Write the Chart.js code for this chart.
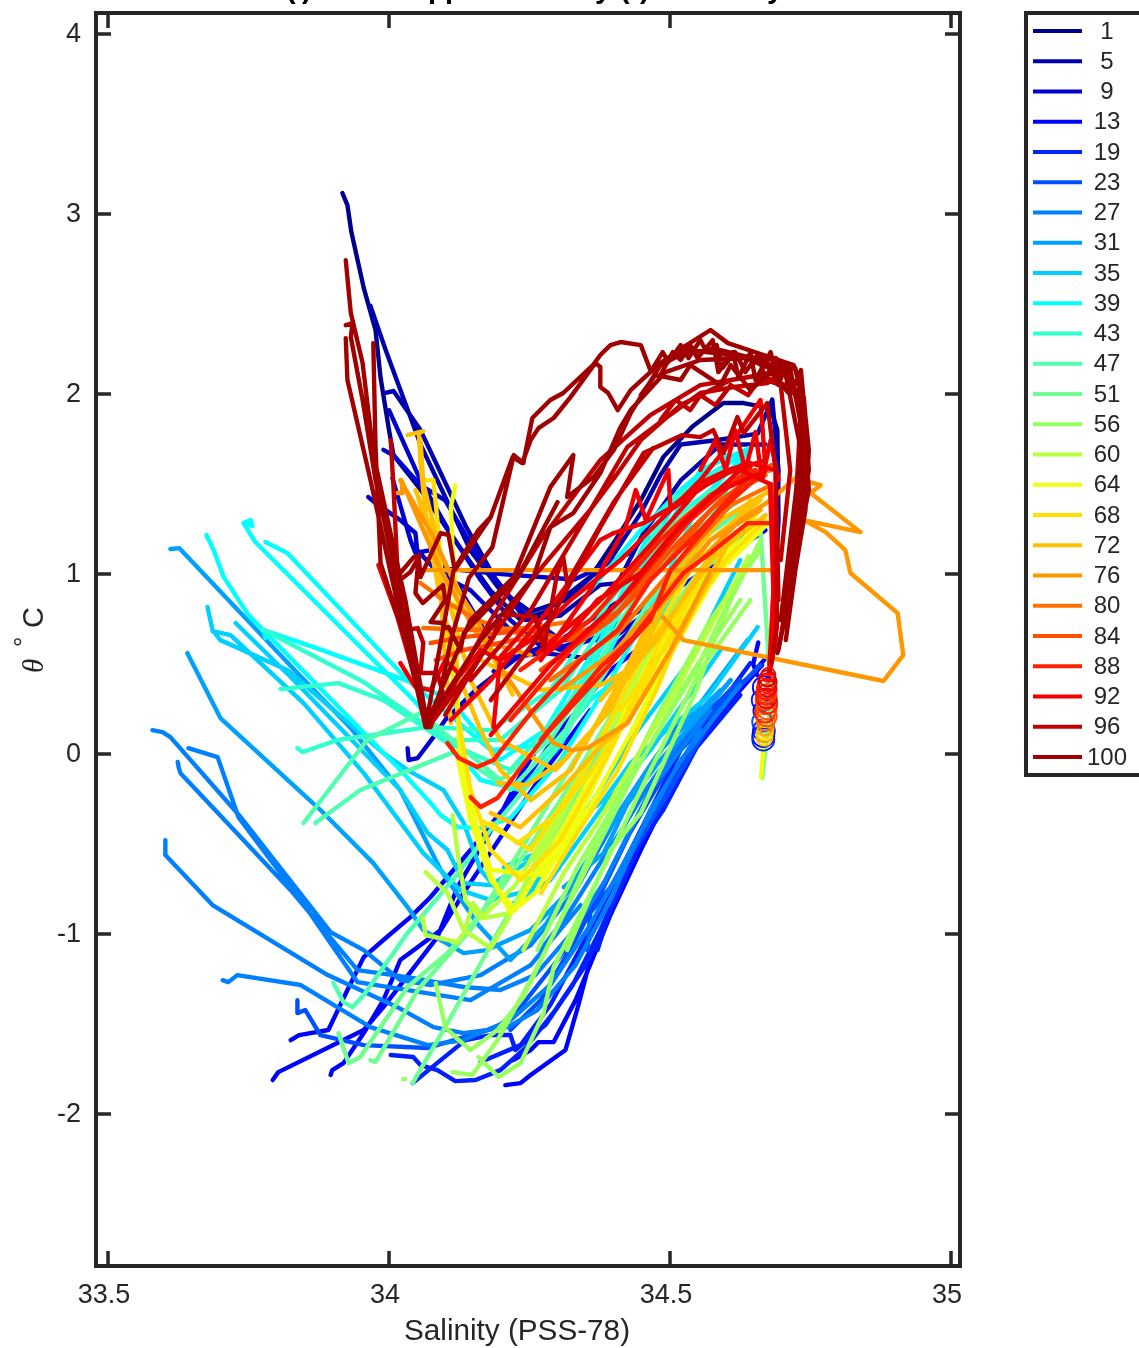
<!DOCTYPE html>
<html>
<head>
<meta charset="utf-8">
<style>
  html, body { margin: 0; padding: 0; background: #fff; overflow: hidden; }
  canvas { display: block; }
</style>
<script src="https://cdn.jsdelivr.net/npm/chart.js@4"></script>
</head>
<body>
<canvas id="ts" width="1139" height="1348"></canvas>
<script>
const castLabels = [1,5,9,13,19,23,27,31,35,39,43,47,51,56,60,64,68,72,76,80,84,88,92,96,100];
const castColors = ['#00008f','#0000af','#0000cf','#0000ff','#0020ff','#0050ff','#0080ff','#00a0ff','#00d0ff','#00ffff','#30ffcf','#50ffaf','#70ff8f','#98ff60','#b8ff40','#f0ff10','#ffe000','#ffc000','#ff9800','#ff7000','#ff5000','#ff2000','#f00000','#c00000','#a00000'];
const xTicks = [33.5,34,34.5,35];
const yTicks = [-2,-1,0,1,2,3,4];

// each cast is a list of strands of [salinity, theta]
const cast1 = [[[33.917,3.117],[33.926,3.05],[33.933,2.9],[33.955,2.59],[33.976,2.355],[33.985,2.09],[34,1.8],[34.008,1.66],[34.056,1.47],[34.11,1.22],[34.18,.91],[34.234,.745],[34.278,.79],[34.36,.99],[34.403,1.19],[34.448,1.41],[34.488,1.65],[34.54,1.82],[34.595,1.95],[34.631,1.95],[34.679,1.92],[34.691,1.8],[34.693,1.3],[34.682,.63]]];
const cast5 = [
  [[33.967,2.49],[33.994,2.245],[34.056,1.72],[34.145,1.13],[34.198,.91],[34.252,.79],[34.314,.855],[34.394,1.08],[34.448,1.34],[34.483,1.55],[34.519,1.72],[34.585,1.745],[34.656,1.78],[34.682,1.97],[34.693,1.58],[34.688,.855]],
  [[33.992,2.005],[34.008,2.017],[34.056,1.8],[34.136,1.27],[34.19,.97],[34.243,.745],[34.305,.77],[34.376,.94],[34.407,.95],[34.453,1.23],[34.519,1.52],[34.59,1.72],[34.67,1.72]]];
const cast9 = [
  [[34,1.91],[34.056,1.52],[34.106,1.244],[34.163,.967],[34.216,.744],[34.278,.578],[34.358,.633],[34.448,.8],[34.519,1.08],[34.59,1.356],[34.661,1.578]],
  [[33.99,1.69],[34.008,1.66],[34.056,1.494],[34.1,1.41],[34.163,1.078],[34.234,.8],[34.305,.633],[34.394,.633],[34.465,.8]],
  [[33.963,1.428],[33.976,1.394],[34.02,1.3],[34.047,1.228],[34.05,1.133],[34.092,.994],[34.145,.91],[34.216,.689],[34.305,.578],[34.412,.689]],
  [[34.033,.033],[34.035,-.033],[34.051,-.022],[34.079,.094],[34.1,.19],[34.154,.356],[34.234,.55],[34.305,.633],[34.412,.856],[34.483,1.078]],
  [[34.006,1.533],[34.038,1.19],[34.047,1.117],[34.074,1.133],[34.127,.911],[34.18,.633]],
  [[34.1,1.03],[34.2,1.0],[34.33,.97],[34.43,1.12],[34.453,1.205],[34.476,1.19],[34.42,.98],[34.39,.86]],
  [[34.186,.46],[34.222,.539],[34.275,.561],[34.353,.533]]];
const cast13 = [
  [[33.793,-1.811],[33.803,-1.767],[33.955,-1.533],[33.99,-1.406],[34.086,-1.017],[34.122,-.739],[34.157,-.55],[34.198,-.339],[34.234,-.117],[34.296,.189],[34.394,.578],[34.483,.856],[34.59,1.078],[34.67,1.244]],
  [[33.825,-1.589],[33.84,-1.561],[33.892,-1.533],[33.926,-1.311],[33.955,-1.128],[33.99,-1.033],[34.038,-.906],[34.074,-.794],[34.145,-.533],[34.216,-.256],[34.305,.133],[34.394,.467],[34.465,.633]],
  [[33.896,-1.783],[33.899,-1.756],[33.919,-1.717],[33.955,-1.55],[33.99,-1.367],[34.02,-1.144],[34.092,-.978],[34.136,-.756],[34.207,-.422],[34.278,-.089],[34.358,.244]],
  [[34.207,-1.839],[34.234,-1.828],[34.252,-1.783],[34.314,-1.644],[34.337,-1.394],[34.358,-1.144],[34.398,-.867],[34.448,-.533],[34.519,-.089],[34.59,.244],[34.652,.467],[34.675,.55]],
  [[34.221,-1.7],[34.252,-1.644],[34.266,-1.6],[34.293,-1.6],[34.332,-1.367],[34.376,-1.033],[34.448,-.478],[34.536,.022],[34.625,.356],[34.664,.494]],
  [[34.657,.62],[34.648,.5],[34.655,.44]]];
const cast19 = [
  [[34.003,-1.672],[34.043,-1.683],[34.056,-1.728],[34.086,-1.756],[34.118,-1.817],[34.154,-1.811],[34.198,-1.756],[34.243,-1.633],[34.296,-1.422],[34.35,-1.172],[34.403,-.811],[34.465,-.367],[34.554,.106],[34.634,.411]],
  [[34.042,-1.828],[34.092,-1.7],[34.136,-1.589],[34.181,-1.561],[34.216,-1.561],[34.225,-1.644],[34.278,-1.506],[34.327,-1.283],[34.376,-.978],[34.439,-.533],[34.536,-.006],[34.625,.328]],
  [[34.163,-1.711],[34.234,-1.617],[34.287,-1.394],[34.358,-.978],[34.43,-.533],[34.519,.022],[34.616,.356]],
  [[34.371,-1.089],[34.4,-.794],[34.442,-.517],[34.488,-.311],[34.542,.006],[34.595,.3],[34.643,.506]]];
const cast23 = [
  [[33.837,-1.367],[33.837,-1.439],[33.851,-1.422],[33.878,-1.561],[33.955,-1.617],[34.069,-1.633],[34.133,-1.572],[34.193,-1.517],[34.234,-1.406],[34.3,-1.144],[34.371,-.811],[34.448,-.311],[34.536,.133],[34.625,.411]],
  [[34.216,-1.533],[34.27,-1.367],[34.341,-.978],[34.421,-.478],[34.51,-.006],[34.608,.356]],
  [[34.353,-1.089],[34.358,-.883],[34.394,-.739],[34.46,-.406],[34.513,-.128],[34.59,.272],[34.661,.494]]];
const cast27 = [
  [[33.704,-1.256],[33.714,-1.267],[33.73,-1.228],[33.843,-1.283],[33.967,-1.517],[34.069,-1.617],[34.133,-1.589],[34.216,-1.478],[34.287,-1.283],[34.358,-.95],[34.43,-.533],[34.519,-.033],[34.625,.383]],
  [[33.602,-.478],[33.602,-.561],[33.686,-.839],[33.891,-1.228],[34.015,-1.406],[34.079,-1.517],[34.133,-1.55],[34.211,-1.517],[34.264,-1.422],[34.332,-1.172],[34.394,-.811],[34.465,-.311],[34.554,.133]],
  [[33.624,-.044],[33.626,-.078],[33.629,-.106],[33.825,-.756],[33.944,-1.2],[34.033,-1.239],[34.133,-1.294],[34.198,-1.311],[34.26,-1.228],[34.322,-1.006],[34.385,-.7],[34.465,-.2],[34.572,.244]],
  [[33.579,.133],[33.597,.122],[33.611,.094],[33.736,-.35],[33.896,-.989],[33.955,-1.089],[34.02,-1.256],[34.074,-1.283],[34.163,-1.228],[34.252,-1.061],[34.332,-.756],[34.412,-.311],[34.519,.189]],
  [[33.643,.033],[33.695,-.017],[33.732,-.35],[33.843,-.811],[33.944,-1.267],[34.145,-1.367],[34.252,-1.172],[34.341,-.839]],
  [[34.27,-1.089],[34.323,-.867],[34.371,-.628],[34.417,-.406],[34.46,-.183],[34.524,.094],[34.608,.411]]];
const cast31 = [
  [[33.641,.561],[33.7,.2],[33.878,-.311],[33.972,-.606],[34.033,-.85],[34.061,-.978],[34.133,-1.106],[34.174,-1.089],[34.252,-.978],[34.322,-.756],[34.394,-.394],[34.483,.022],[34.59,.356]],
  [[33.611,1.139],[33.627,1.144],[33.837,.45],[33.932,.144],[34.02,-.2],[34.092,-.644],[34.159,-.95],[34.216,-1.144],[34.278,-.95],[34.376,-.478],[34.483,-.033],[34.608,.411]],
  [[34.311,-.739],[34.382,-.55],[34.43,-.239],[34.488,.039],[34.549,.261],[34.638,.633]]];
const cast35 = [
  [[33.677,.817],[33.686,.689],[33.7,.633],[33.819,.467],[33.99,.006],[34.033,-.089],[34.097,-.2],[34.133,-.383],[34.163,-.644],[34.216,-.839],[34.287,-.7],[34.376,-.311],[34.465,.022],[34.59,.578]],
  [[33.686,.683],[33.718,.661],[33.848,.283],[33.955,-.106],[34.061,-.55],[34.127,-.756],[34.181,-.811],[34.252,-.756],[34.341,-.367],[34.43,.078],[34.536,.522],[34.625,1.078]],
  [[33.727,.728],[33.825,.428],[34.02,-.2],[34.069,-.439],[34.104,-.533],[34.133,-.717],[34.181,-.728],[34.252,-.589],[34.341,-.144],[34.448,.356],[34.554,.911],[34.634,1.244]],
  [[34.204,-.628],[34.264,-.55],[34.382,-.256],[34.43,-.05],[34.488,.117],[34.567,.317],[34.656,.706]]];
const cast39 = [
  [[33.675,1.217],[33.688,1.133],[33.706,.983],[33.75,.772],[34.015,-.072],[34.074,-.272],[34.092,-.339],[34.122,-.406],[34.163,-.411],[34.216,-.356],[34.305,-.033],[34.394,.411],[34.483,.911],[34.554,1.411],[34.625,1.633]],
  [[33.741,1.283],[33.754,1.3],[33.757,1.267],[33.741,1.283],[33.762,1.178],[34.044,.3],[34.104,.078],[34.163,-.144],[34.234,-.2],[34.305,.05],[34.394,.578],[34.483,1.189],[34.554,1.578],[34.634,1.689]],
  [[33.78,1.178],[33.819,1.117],[34.033,.411],[34.104,.228],[34.181,.022],[34.27,.05],[34.358,.467],[34.448,1.022],[34.519,1.467],[34.599,1.661]],
  [[33.78,.644],[33.777,.689],[33.866,.594],[34.044,.394],[34.11,.3],[34.198,-.033],[34.278,.133],[34.376,.633],[34.465,1.244],[34.554,1.522],[34.643,1.689]],
  [[34.27,-.033],[34.358,.3],[34.435,.483],[34.5,.85],[34.572,1.3],[34.64,1.7]],
  [[34.358,.911],[34.448,1.244],[34.519,1.467],[34.572,1.606],[34.634,1.689]]];
const cast43 = [
  [[33.777,.689],[33.955,.4],[34.104,.078],[34.198,.078],[34.305,.356],[34.412,.856],[34.501,1.411],[34.59,1.578],[34.661,1.522]],
  [[33.807,.361],[33.91,.394],[33.99,.3],[34.104,.061],[34.216,-.089],[34.323,.3],[34.43,.911],[34.519,1.356],[34.608,1.522]],
  [[33.837,.033],[33.846,.011],[33.908,.078],[34.069,.15],[34.181,.133],[34.287,.356],[34.394,.856],[34.483,1.244],[34.572,1.467]]];
const cast47 = [
  [[33.848,-.383],[33.961,.078],[34.056,.228],[34.198,-.144],[34.287,.078],[34.376,.522],[34.465,1.022],[34.554,1.3],[34.643,1.522]],
  [[33.869,-.383],[33.949,-.2],[34.115,.011],[34.216,-.2],[34.314,.133],[34.412,.744],[34.519,1.189],[34.625,1.411]],
  [[33.901,-1.272],[33.919,-1.378],[33.935,-1.406],[33.955,-1.339],[34.033,-.994],[34.113,-.7],[34.181,-.422],[34.27,-.089],[34.376,.411],[34.465,.856],[34.554,1.189],[34.652,1.411]]];
const cast51 = [
  [[33.91,-1.55],[33.928,-1.717],[33.949,-1.683],[34.033,-1.294],[34.104,-1.106],[34.198,-.756],[34.305,-.256],[34.412,.3],[34.519,.8],[34.625,1.189]],
  [[33.967,-1.7],[33.976,-1.711],[34.051,-1.311],[34.145,-.978],[34.234,-.533],[34.341,.022],[34.448,.578],[34.554,1.022],[34.661,1.244],[34.68,.3],[34.664,-.133]],
  [[34.042,-1.828],[34.11,-1.461],[34.193,-.994],[34.27,-.589],[34.358,-.089],[34.448,.411],[34.554,.911]]];
const cast56 = [
  [[34.025,-1.806],[34.029,-1.806]],
  [[34.083,-1.272],[34.1,-1.517],[34.124,-1.589],[34.145,-1.644],[34.193,-1.533],[34.239,-1.35],[34.305,-.922],[34.394,-.311],[34.483,.244],[34.572,.744],[34.661,1.133]],
  [[34.159,-1.683],[34.195,-1.794],[34.234,-1.717],[34.275,-1.439],[34.293,-1.183],[34.382,-.628],[34.465,-.089],[34.554,.467],[34.643,.856]],
  [[34.113,-1.767],[34.148,-1.783],[34.193,-1.589],[34.252,-1.256],[34.341,-.7],[34.43,-.144],[34.519,.356],[34.625,.856]],
  [[34.317,-1.089],[34.394,-.533],[34.448,-.328],[34.549,.372],[34.572,.578],[34.608,.856],[34.661,1.189]],
  [[34.264,-1.089],[34.335,-.628],[34.407,-.256],[34.488,.172],[34.549,.483],[34.62,.95]]];
const cast60 = [
  [[34.06,-.906],[34.065,-1.006],[34.122,-1.044],[34.133,-.994],[34.15,-.828],[34.168,-.911],[34.216,-.883],[34.287,-.478],[34.376,.078],[34.465,.578],[34.554,1.022],[34.652,1.3]],
  [[34.065,-.656],[34.104,-.772],[34.133,-.978],[34.181,-1.078],[34.211,-.922],[34.27,-.533],[34.358,-.033],[34.465,.522],[34.554,.911],[34.661,1.244]],
  [[34.113,-.339],[34.124,-.589],[34.136,-.811],[34.163,-.911],[34.225,-.728],[34.305,-.311],[34.394,.189],[34.483,.633],[34.572,1.022]],
  [[34.239,-1.089],[34.311,-.661],[34.371,-.383],[34.43,-.072],[34.501,.3],[34.572,.706],[34.64,1.1]]];
const cast64 = [
  [[34.118,1.494],[34.11,1.372],[34.113,1.15],[34.117,1.022],[34.124,.078],[34.145,-.256],[34.172,-.617],[34.216,-.883],[34.26,-.772],[34.335,-.367],[34.412,.133],[34.501,.633],[34.59,1.022],[34.68,1.3]],
  [[34.119,.022],[34.145,-.367],[34.181,-.7],[34.225,-.867],[34.287,-.533],[34.376,-.033],[34.465,.522],[34.554,.911],[34.643,1.3]],
  [[34.136,-.2],[34.181,-.644],[34.27,-.672],[34.358,-.2],[34.448,.411],[34.536,.856],[34.661,1.3]],
  [[34.3,-.589],[34.371,-.217],[34.43,.117],[34.488,.483],[34.536,.744],[34.6,1.1]],
  [[34.668,.1],[34.662,-.13]]];
const cast68 = [
  [[34.061,1.522],[34.079,1.522],[34.086,1.3],[34.1,.744],[34.124,.189],[34.145,-.2],[34.181,-.533],[34.234,-.7],[34.305,-.478],[34.394,.022],[34.483,.633],[34.572,1.078],[34.661,1.356]],
  [[34.163,-.367],[34.252,-.533],[34.35,-.089],[34.448,.522],[34.536,1.022],[34.643,1.356]],
  [[34.27,-.772],[34.335,-.439],[34.407,-.089],[34.478,.372],[34.507,.594],[34.59,1.1]],
  [[34.181,-.383],[34.229,-.494],[34.293,-.35],[34.358,-.106],[34.442,.3],[34.483,.561],[34.56,1.0]],
  [[34.412,.244],[34.501,.633],[34.599,1.078],[34.67,1.3]]];
const cast72 = [
  [[34.033,1.772],[34.061,1.794],[34.053,1.783],[34.056,1.617],[34.065,1.339],[34.074,1.15],[34.092,.856],[34.127,.411],[34.163,.133],[34.198,-.089],[34.252,-.256],[34.323,-.089],[34.412,.411],[34.501,.967],[34.59,1.3],[34.68,1.467]],
  [[34.049,1.456],[34.092,1.022],[34.145,.411],[34.198,.078],[34.296,-.089],[34.394,.244],[34.483,.8],[34.572,1.189],[34.661,1.411]],
  [[34.163,.522],[34.27,.356],[34.376,.383],[34.435,.483],[34.477,.633],[34.554,1.022],[34.643,1.411]],
  [[34.181,-.328],[34.234,-.406],[34.311,-.183],[34.382,.061],[34.424,.172],[34.513,.633],[34.6,1.15]],
  [[34.056,1.744],[34.061,1.506],[34.086,1.189],[34.097,.633],[34.11,.172]],
  [[34.047,1.467],[34.097,1.078],[34.157,.706],[34.22,.33]],
  [[34.193,-.161],[34.246,-.172],[34.311,-.033],[34.358,.117],[34.44,.5],[34.5,.9]],
  [[34.376,.3],[34.483,.689],[34.581,1.106],[34.67,1.328]]];
const cast76 = [
  [[34.015,1.45],[34.024,1.45],[34.022,1.522],[34.092,1.022],[34.163,.633],[34.252,.55]],
  [[34.02,1.522],[34.079,1.206],[34.122,.911],[34.157,.744],[34.198,.483],[34.275,.133]],
  [[34.065,1.022],[34.679,1.022]],
  [[34.487,.761],[34.524,.633],[34.88,.406],[34.915,.55],[34.905,.783],[34.821,1.006],[34.812,1.133],[34.777,1.233],[34.738,1.3],[34.839,1.233],[34.75,1.45],[34.768,1.494],[34.723,1.533],[34.679,1.411]],
  [[34.282,.106],[34.293,.061],[34.323,.022],[34.353,.033],[34.424,.172],[34.501,.578],[34.57,1.0]],
  [[34.305,.356],[34.43,.633],[34.536,1.022],[34.625,1.3],[34.679,1.411]],
  [[34.358,.411],[34.465,.8],[34.572,1.189],[34.661,1.356]]];
const cast80 = [
  [[34.061,.7],[34.145,.689],[34.246,.7],[34.341,.744],[34.43,1.022],[34.519,1.3],[34.608,1.522],[34.68,1.578]],
  [[34.056,.95],[34.097,.856],[34.157,.744],[34.25,.65]],
  [[34.287,.411],[34.412,.689],[34.519,1.078],[34.608,1.383],[34.68,1.494]]];
const cast84 = [
  [[34.074,.617],[34.133,.65],[34.246,.689],[34.323,.633],[34.412,.8],[34.501,1.133],[34.59,1.411],[34.68,1.606]],
  [[34.083,.522],[34.133,.578],[34.222,.633],[34.305,.633],[34.394,.744],[34.483,1.022],[34.572,1.356],[34.661,1.578]],
  [[34.27,.467],[34.394,.744],[34.501,1.133],[34.59,1.411],[34.67,1.55]]];
const cast88 = [
  [[34.145,-.239],[34.163,-.294],[34.193,-.244],[34.282,.117],[34.389,.483],[34.465,.744],[34.501,1.022],[34.59,1.356],[34.67,1.578]],
  [[34.104,.061],[34.124,-.022],[34.157,-.072],[34.186,-.033],[34.252,.228],[34.341,.522],[34.407,.689],[34.465,.967],[34.554,1.244],[34.643,1.55]],
  [[34.27,.078],[34.376,.483],[34.435,.65],[34.524,1.006],[34.572,1.117],[34.638,1.283],[34.68,1.283]],
  [[34.234,.467],[34.358,.744],[34.483,1.189],[34.572,1.439],[34.652,1.578]],
  [[34.216,.189],[34.323,.578],[34.43,.911],[34.536,1.3],[34.643,1.589]],
  [[34.68,1.5],[34.685,1.0],[34.68,.6],[34.675,.42]]];
const cast92 = [
  [[33.981,1.05],[34.015,.761],[34.047,.411],[34.069,.161]],
  [[34.02,.506],[34.047,.372],[34.074,.356],[34.1,.522],[34.127,.439],[34.163,.578],[34.198,.522],[34.252,.633],[34.323,.856],[34.412,1.078],[34.501,1.356],[34.59,1.55],[34.67,1.633]],
  [[34.11,.189],[34.181,.411],[34.27,.744],[34.376,1.189],[34.4,1.228],[34.453,1.283],[34.501,1.367],[34.554,1.506],[34.603,1.578],[34.643,1.617],[34.688,1.578],[34.688,.633],[34.675,.411]],
  [[34.27,.522],[34.358,.911],[34.421,1.261],[34.439,1.467],[34.457,1.3],[34.497,1.578],[34.501,1.356],[34.554,1.522],[34.625,1.8],[34.661,1.967],[34.67,1.578]],
  [[34.186,.15],[34.198,.539],[34.261,.761],[34.282,.561],[34.317,.65],[34.371,.856],[34.448,1.006],[34.495,1.189],[34.58,1.45],[34.66,1.56]],
  [[34.264,.561],[34.376,.856],[34.465,1.161],[34.549,1.467],[34.634,1.617]],
  [[34.181,.106],[34.287,.494],[34.412,.856],[34.519,1.272],[34.625,1.578],[34.678,1.5],[34.684,.9],[34.677,.5]],
  [[34.554,1.578],[34.581,1.744],[34.599,1.578],[34.616,1.8],[34.634,1.578],[34.652,1.789],[34.664,1.522],[34.679,1.744],[34.693,1.522]]];
const cast96 = [
  [[34.003,1.744],[34.008,1.483],[34.015,1.022],[34.029,.633],[34.069,.15],[34.1,.3],[34.181,.744],[34.27,1.189],[34.376,1.633],[34.465,1.883],[34.554,2.05],[34.661,2.106],[34.727,2.022],[34.741,1.689],[34.714,.967],[34.693,.578]],
  [[34.181,.3],[34.287,.744],[34.376,1.261],[34.453,1.672],[34.522,1.772],[34.554,1.761],[34.577,1.8],[34.595,1.672],[34.62,1.872],[34.631,1.783],[34.673,1.95],[34.688,1.578],[34.693,.856]],
  [[34.145,.411],[34.252,.8],[34.376,1.45],[34.424,1.706],[34.495,1.872],[34.554,2.006],[34.613,2.039],[34.673,2.061],[34.714,2.133],[34.732,1.856],[34.714,.856]],
  [[34.1,.217],[34.181,.633],[34.257,.983],[34.358,1.356],[34.407,1.561],[34.448,1.744],[34.519,1.939],[34.608,2.078],[34.697,2.122]],
  [[34.07,.15],[34.149,.483],[34.186,.65],[34.198,.772],[34.222,.772],[34.261,.761],[34.275,.578],[34.299,1.0],[34.31,1.094],[34.317,.95],[34.4,1.4],[34.47,1.7]],
  [[34.02,.911],[34.029,.689],[34.051,.7],[34.061,.617],[34.056,.45],[34.086,.45],[34.096,.339],[34.074,.15]],
  [[34.483,1.856],[34.51,1.967],[34.536,1.911],[34.554,1.994],[34.581,1.939],[34.608,2.05],[34.639,1.994],[34.661,2.089],[34.697,2.05],[34.706,1.8],[34.714,1.578],[34.697,1.078]],
  [[34.69,1.3],[34.69,.7],[34.68,.5]]];
const cast100 = [
  [[33.923,2.744],[33.932,2.45],[33.953,2.172],[33.972,1.672],[34.008,1.15],[34.029,.856],[34.069,.15],[34.092,.356],[34.11,.633],[34.142,.978],[34.184,1.15],[34.222,1.661],[34.239,1.617],[34.255,1.867],[34.287,1.967],[34.31,2.006],[34.363,2.161],[34.376,2.217],[34.394,2.272],[34.412,2.289],[34.448,2.272],[34.465,2.133],[34.483,2.172],[34.524,2.261],[34.572,2.356],[34.603,2.283],[34.656,2.228],[34.72,2.161],[34.738,1.983],[34.745,1.728],[34.733,1.339],[34.708,.8],[34.691,.561]],
  [[33.923,2.311],[33.926,2.078],[33.967,1.522],[34.003,1.006],[34.065,.15],[34.115,1.022],[34.159,1.244],[34.181,1.317],[34.22,1.65],[34.237,1.617],[34.252,1.744],[34.266,1.811],[34.293,1.867],[34.323,1.983],[34.367,2.172],[34.376,2.15],[34.376,2.039],[34.39,2.006],[34.407,1.911],[34.43,2.022],[34.465,2.122],[34.519,2.233],[34.59,2.244],[34.661,2.189],[34.714,2.106],[34.741,1.8],[34.714,.911]],
  [[33.923,2.383],[33.935,2.394],[33.932,2.317],[33.953,1.967],[33.976,1.522],[34.006,1.078],[34.042,.522],[34.065,.15],[34.145,.744],[34.222,.983],[34.287,1.483],[34.328,1.661],[34.317,1.428],[34.364,1.539],[34.4,1.689],[34.43,1.894],[34.483,2.161],[34.536,2.244],[34.608,2.217],[34.688,2.189],[34.733,1.967],[34.738,1.522],[34.706,.856]],
  [[33.972,2.283],[33.976,1.706],[33.985,1.061],[34.029,.633],[34.069,.178],[34.163,.633],[34.257,.983],[34.287,1.261],[34.328,1.339],[34.376,1.561],[34.412,1.817],[34.43,1.911],[34.492,2.122],[34.554,2.189],[34.634,2.2],[34.706,2.106],[34.733,1.689],[34.697,.744]],
  [[34.02,1.006],[34.044,1.094],[34.053,1.106],[34.047,.894],[34.06,.839],[34.096,.939],[34.1,.856],[34.074,.733],[34.096,.728],[34.097,.7],[34.106,.706],[34.127,.578],[34.133,.672],[34.229,.983],[34.3,1.4]],
  [[34.008,.939],[34.038,1.011],[34.053,1.094],[34.056,.983],[34.092,1.228],[34.106,1.217],[34.117,1.022],[34.181,1.317]],
  [[34.483,2.106],[34.505,2.233],[34.519,2.189],[34.536,2.272],[34.549,2.2],[34.576,2.3],[34.586,2.122],[34.612,2.233],[34.622,2.089],[34.643,2.233],[34.652,2.078],[34.679,2.233],[34.693,2.05],[34.706,2.156],[34.723,2.144],[34.733,1.994],[34.741,1.744],[34.747,1.467],[34.729,1.189],[34.706,.8]],
  [[34.465,2.122],[34.487,2.233],[34.497,2.178],[34.519,2.272],[34.533,2.2],[34.554,2.3],[34.565,2.233],[34.583,2.272],[34.593,2.144],[34.616,2.233],[34.634,2.122],[34.656,2.217],[34.67,2.089],[34.688,2.2],[34.714,2.133],[34.725,1.967],[34.738,1.744]],
  [[34.448,1.994],[34.474,2.106],[34.519,2.078],[34.536,2.161],[34.59,2.05],[34.608,2.161],[34.643,2.022],[34.679,2.122],[34.714,1.994],[34.733,2.133],[34.741,1.856],[34.747,1.578],[34.723,1.078]],
  [[34.723,2.133],[34.738,1.967],[34.747,1.689],[34.741,1.356],[34.723,1.022],[34.706,.633]]];

const allCasts = [cast1,cast5,cast9,cast13,cast19,cast23,cast27,cast31,cast35,cast39,cast43,cast47,cast51,cast56,cast60,cast64,cast68,cast72,cast76,cast80,cast84,cast88,cast92,cast96,cast100];

// small loops the casts leave at the foot of the deep stem, drawn blue first
const ringSal = [34.667,34.665,34.668,34.664,34.667,34.666,34.666,34.668,34.67,34.669,34.67,34.668,34.67,34.672,34.669,34.672,34.671,34.673,34.67,34.672,34.671,34.673,34.672,34.673,34.672,34.674,34.673,34.675];
const ringTheta = [.37,.3,.24,.18,.13,.1,.08,.11,.14,.12,.15,.09,.18,.21,.23,.25,.27,.28,.3,.31,.33,.34,.36,.37,.39,.4,.42,.44];
const ringCast = [3,4,3,5,4,3,4,18,17,16,18,17,19,20,21,20,19,21,20,22,21,20,21,22,21,22,23,22];
const ringSize = [11,11,11,10,11,11,11,8,8,8,8,8,9,10,10,10,9,10,10,10,10,9,10,9,9,9,8,7];

const titleBits = [['(',286],[')',302],['p',428],['p',445],['y',595],['(',620],[')',640],['y',767]];

const toPoints = strands => strands.flatMap(s => s.map(p => ({x: p[0], y: p[1]})).concat([{x: NaN, y: NaN}]));

const datasets = allCasts.map((c, i) => ({
  label: String(castLabels[i]),
  data: toPoints(c),
  borderColor: castColors[i],
  backgroundColor: castColors[i],
  borderWidth: 4.4,
  borderJoinStyle: 'round',
  borderCapStyle: 'round',
  showLine: true,
  pointRadius: 0,
  spanGaps: false,
  order: 100 - i
}));
datasets.push({
  label: 'rings',
  data: ringSal.map((s, i) => ({x: s, y: ringTheta[i]})),
  showLine: false,
  pointRadius: ringSize,
  pointBorderWidth: 1.8,
  pointBackgroundColor: 'rgba(0,0,0,0)',
  pointBorderColor: ringCast.map(i => castColors[i]),
  order: 0
});

const frame = {
  id: 'frame',
  afterDatasetsDraw(chart) {
    const {ctx, chartArea: a, scales: {x, y}} = chart;
    ctx.save();
    ctx.strokeStyle = '#262626';
    ctx.lineWidth = 3.5;
    ctx.beginPath();
    xTicks.forEach(v => {
      const p = x.getPixelForValue(v);
      ctx.moveTo(p, a.bottom); ctx.lineTo(p, a.bottom - 15);
      ctx.moveTo(p, a.top); ctx.lineTo(p, a.top + 15);
    });
    yTicks.forEach(v => {
      const p = y.getPixelForValue(v);
      ctx.moveTo(a.left, p); ctx.lineTo(a.left + 15, p);
      ctx.moveTo(a.right, p); ctx.lineTo(a.right - 15, p);
    });
    ctx.stroke();
    ctx.lineWidth = 4;
    ctx.strokeRect(a.left, a.top, a.right - a.left, a.bottom - a.top);

    // the title sits almost wholly above the page, only its descenders show
    ctx.fillStyle = '#000';
    ctx.font = 'bold 29px "Liberation Sans"';
    ctx.textAlign = 'left';
    ctx.textBaseline = 'alphabetic';
    titleBits.forEach(b => ctx.fillText(b[0], b[1], -2));

    ctx.fillStyle = '#262626';
    ctx.font = '29.7px "Liberation Sans"';
    ctx.textAlign = 'center';
    ctx.fillText('Salinity (PSS-78)', 517, 1340);

    ctx.translate(43, 673);
    ctx.rotate(-Math.PI / 2);
    ctx.textAlign = 'left';
    ctx.font = 'italic 29px "Liberation Serif"';
    ctx.fillText('\u03b8', 0, 0);
    ctx.font = '26px "Liberation Sans"';
    ctx.fillText('\u00b0', 26, -11);
    ctx.font = '29px "Liberation Sans"';
    ctx.fillText('C', 45, 0);
    ctx.restore();

    // legend box, runs off the right edge of the page
    ctx.save();
    ctx.fillStyle = '#fff';
    ctx.fillRect(1026, 13, 120, 762);
    ctx.strokeStyle = '#262626';
    ctx.lineWidth = 4;
    ctx.strokeRect(1026, 13, 120, 762);
    ctx.font = '24px "Liberation Sans"';
    ctx.textAlign = 'center';
    ctx.textBaseline = 'middle';
    castLabels.forEach((lab, i) => {
      const ly = 31 + i * 30.25;
      ctx.strokeStyle = castColors[i];
      ctx.lineWidth = 4;
      ctx.beginPath();
      ctx.moveTo(1033, ly); ctx.lineTo(1082, ly);
      ctx.stroke();
      ctx.fillStyle = '#262626';
      ctx.fillText(String(lab), 1107, ly + 1);
    });
    ctx.restore();
  }
};

new Chart(document.getElementById('ts').getContext('2d'), {
  type: 'scatter',
  data: {datasets},
  plugins: [frame],
  options: {
    responsive: false,
    animation: false,
    layout: {autoPadding: false, padding: {top: 13, right: 179, left: 0, bottom: 0}},
    plugins: {legend: {display: false}, tooltip: {enabled: false}, title: {display: false}},
    scales: {
      x: {
        type: 'linear', min: 33.4786, max: 35.016,
        grid: {display: false, drawTicks: false}, border: {display: false},
        afterFit: s => { s.height = 82; s.paddingLeft = 0; s.paddingRight = 0; },
        afterBuildTicks: s => { s.ticks = xTicks.map(v => ({value: v})); },
        ticks: {color: '#262626', font: {family: 'Liberation Sans', size: 27}, padding: 13, labelOffset: -4, maxRotation: 0, callback: v => String(v)}
      },
      y: {
        type: 'linear', min: -2.844, max: 4.117,
        grid: {display: false, drawTicks: false}, border: {display: false},
        afterFit: s => { s.width = 96; s.paddingTop = 0; s.paddingBottom = 0; },
        afterBuildTicks: s => { s.ticks = yTicks.map(v => ({value: v})); },
        ticks: {color: '#262626', font: {family: 'Liberation Sans', size: 27}, padding: 15, callback: v => String(v)}
      }
    }
  }
});
</script>
</body>
</html>
